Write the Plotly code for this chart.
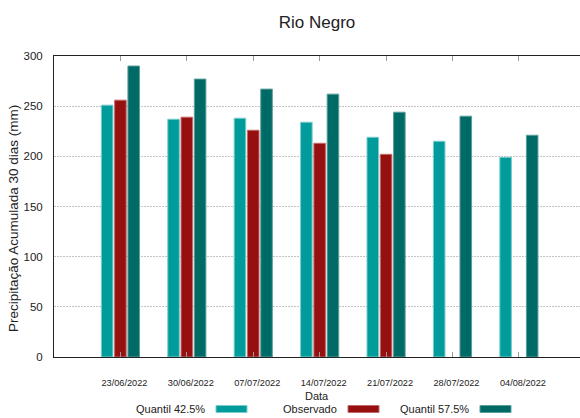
import plotly.graph_objects as go

dates = ["23/06/2022", "30/06/2022", "07/07/2022", "14/07/2022", "21/07/2022", "28/07/2022", "04/08/2022"]
q425 = [251, 237, 238, 234, 219, 215, 199]
observado = [256, 239, 226, 213, 202, None, None]
q575 = [290, 277, 267, 262, 244, 240, 221]

names = ["Quantil 42.5%", "Observado", "Quantil 57.5%"]
colors = ["#009b9b", "#961010", "#006a66"]
edges = ["#7ccccc", "#c46a6a", "#5c9e9b"]
series = [q425, observado, q575]

FONT = "Liberation Sans, Arial, sans-serif"

fig = go.Figure()
for n, c, e, s in zip(names, colors, edges, series):
    fig.add_trace(go.Bar(x=dates, y=s, name=n, marker=dict(color=c, line=dict(color=e, width=1)),
                         showlegend=False))

W, H = 580, 418
ml, mr, mt, mb = 54, 0, 56, 61
pw, ph = W - ml - mr, H - mt - mb

fig.update_layout(
    width=W, height=H,
    margin=dict(l=ml, r=mr, t=mt, b=mb, autoexpand=False),
    paper_bgcolor="white", plot_bgcolor="white",
    barmode="group", bargap=0.4, bargroupgap=0.13,
    title=dict(text="Rio Negro", x=0.5, xref="paper", y=1 - 22 / H, yanchor="middle",
               font=dict(family=FONT, size=17, color="#222")),
    font=dict(family=FONT, color="#222"),
)
fig.update_xaxes(
    type="category", range=[-1.0, 6.92], automargin=False,
    showline=True, linecolor="#222", linewidth=1, mirror="ticks",
    ticks="inside", ticklen=5, tickcolor="#999", tickwidth=1,
    tickfont=dict(family=FONT, size=9.2, color="#222"),
    ticklabelshift=4, ticklabelstandoff=17,
    showgrid=False,
)
fig.update_yaxes(
    range=[0, 300], tickvals=[0, 50, 100, 150, 200, 250, 300], automargin=False,
    showline=True, linecolor="#222", linewidth=1,
    ticks="", ticklabelstandoff=8,
    tickfont=dict(family=FONT, size=11.5, color="#222"),
    showgrid=True, gridcolor="#c4c4c4", griddash="2px,1px", gridwidth=1,
    zeroline=False,
)

# axis titles
fig.add_annotation(text="Precipitação Acumulada 30 dias (mm)", textangle=-90,
                   xref="paper", yref="paper", x=(13 - ml) / pw, y=(H - mb - 219) / ph,
                   xanchor="center", yanchor="middle", showarrow=False,
                   font=dict(family=FONT, size=13.5, color="#222"))
fig.add_annotation(text="Data", xref="paper", yref="paper", x=(317 - ml) / pw, y=(H - mb - 396) / ph,
                   xanchor="center", yanchor="middle", showarrow=False,
                   font=dict(family=FONT, size=11, color="#222"))

# custom legend (text then swatch)
leg = [(207, 216, 247), (339, 348, 379), (471, 480, 511)]
yc = 409
for (tx, s0, s1), n, c, e in zip(leg, names, colors, edges):
    fig.add_annotation(text=n, xref="paper", yref="paper", x=(tx - ml) / pw, y=(H - mb - yc) / ph,
                       xanchor="right", yanchor="middle", showarrow=False,
                       font=dict(family=FONT, size=11, color="#222"))
    fig.add_shape(type="rect", xref="paper", yref="paper",
                  x0=(s0 - ml) / pw, x1=(s1 - ml) / pw,
                  y0=(H - mb - (yc + 3.5)) / ph, y1=(H - mb - (yc - 3.5)) / ph,
                  fillcolor=c, line=dict(color=e, width=1))

fig.write_html("out.html", config={"displayModeBar": False},
               post_script="document.body.style.margin='0';document.body.style.overflow='hidden';")
